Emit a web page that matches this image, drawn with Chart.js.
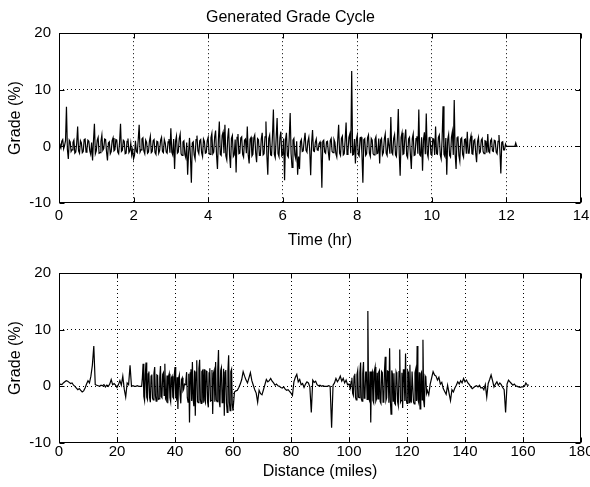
<!DOCTYPE html>
<html><head><meta charset="utf-8">
<script src="https://cdn.jsdelivr.net/npm/chart.js@4"></script>
<style>
html,body{margin:0;padding:0;background:#fff;width:590px;height:487px;overflow:hidden}
canvas{position:absolute;left:0}
#c1{top:0}
#c2{top:258px}
</style></head>
<body>
<canvas id="c1" width="590" height="258"></canvas>
<canvas id="c2" width="590" height="229"></canvas>
<script>
// ---- text ----
const chartTitle = 'Generated Grade Cycle';
const yAxisLabel = 'Grade (%)';
const timeAxisLabel = 'Time (hr)';
const distAxisLabel = 'Distance (miles)';

// ---- tick labels ----
const timeTickValues = [0, 2, 4, 6, 8, 10, 12, 14];
const distTickValues = [0, 20, 40, 60, 80, 100, 120, 140, 160, 180];
const gradeTickValues = [-10, 0, 10, 20];

// ---- top panel: grade (%) sampled every 0.025 hr from t = 0 ----
const TIME_STEP_HR = 0.025;
const gradeVsTime = [
  0.5, 0.1, -0.3, 0.9, 1.2, -0.4, 0.2, 1.0, 7.0, -0.5, -2.2, 1.1, 0.8, -0.9, -0.6, 0.7, 1.1, -1.2, -1.0, 0.6,
  3.5, -0.8, -1.2, 1.0, 0.6, -1.1, -0.9, 1.2, 1.3, -1.0, -0.5, 1.1, 0.9, -0.8, -1.4, 0.7, -2.5, 1.0, 4.0, -1.3,
  -0.8, 1.1, 1.6, -1.2, -1.1, 0.9, 2.0, -0.7, -0.4, 1.3, 1.2, -1.0, -2.5, 0.6, 0.8, -1.3, -0.9, 1.0, 1.5, -0.8,
  -0.6, 1.2, 1.1, -1.0, -1.3, 0.8, 4.0, -0.9, -0.7, 1.1, 0.9, -1.3, -1.2, 0.9, 1.4, -1.1, -0.8, 0.5, -1.5, -0.6,
  -2.2, -1.6, 1.0, -0.9, -1.1, 1.2, 3.8, -1.0, -0.6, 1.3, 1.5, -0.8, -1.3, 1.1, 0.7, -1.2, -1.0, 0.9, 1.8, -1.1,
  -0.9, 1.0, 1.2, -1.1, -1.4, 0.9, 0.8, -1.2, -0.7, 1.1, 1.6, -0.9, -1.1, 1.2, 0.6, -1.0, -1.2, 0.8, 1.3, -1.1,
  3.2, -1.0, -1.5, 1.3, -4.0, 0.9, 1.8, -1.2, -1.0, 1.4, 2.2, -1.3, -1.6, 0.8, 1.0, -1.4, -2.0, 0.7, -5.0, -1.2,
  1.5, -1.8, -6.4, 0.6, 0.8, -1.5, -2.2, 1.2, 1.9, -0.8, -1.3, 1.0, 1.2, -1.1, -1.8, 1.3, 0.9, -1.2, -1.1, 1.0,
  1.6, -1.2, -1.4, 1.5, 2.3, -1.3, -1.0, 1.7, 2.8, -1.5, -4.0, 1.2, 4.4, -1.4, -1.6, 1.9, 2.5, -1.2, 3.8, -1.7,
  -2.4, 1.5, 3.2, -1.6, -3.8, 1.4, 1.9, -1.8, -1.5, 1.2, -4.6, 1.6, 2.2, -1.3, -1.2, 1.5, 1.7, -1.4, -1.9, 1.1,
  1.3, -1.2, 3.5, -1.5, -3.0, 1.3, 1.6, -1.7, -1.4, 1.5, 2.0, -1.2, -2.8, 1.4, 1.2, -1.6, -1.6, 1.3, 2.4, -1.5,
  -1.3, 1.7, 4.4, -1.6, -5.0, 1.4, 2.0, -1.5, -1.6, 1.8, 6.5, -1.4, -2.0, 1.6, 5.0, -1.3, -1.8, 1.5, 2.6, -1.7,
  -1.5, 1.4, -6.0, 1.2, 2.4, -1.6, -1.9, 1.5, 5.9, -1.3, -3.7, 1.1, 1.4, -1.5, -2.2, 0.9, -5.0, -1.8, -4.0, 0.8,
  1.2, -0.9, -0.8, 1.0, 2.4, -0.7, -1.0, 0.9, 1.6, -0.8, -5.1, 0.6, 2.9, -0.8, -0.9, 0.7, 1.3, -0.6, -0.7, 0.5,
  0.8, -0.6, -7.3, 0.9, 1.1, -1.0, -1.2, 0.8, 0.9, -1.1, -2.5, 1.0, 1.4, -0.9, -1.1, 1.2, 0.7, -1.3, -1.9, 1.1,
  3.8, -1.2, -1.6, 1.4, 1.8, -1.5, -1.3, 1.2, 4.2, -1.4, -1.0, 1.6, 2.2, -1.2, 13.3, -1.5, -1.4, 1.3, -3.0, 1.2,
  2.0, -1.4, -1.7, 1.5, 1.6, -1.3, -6.4, 1.2, 1.4, -1.6, -1.3, 1.5, 2.0, -1.2, -1.8, 1.4, 1.1, -1.3, -1.5, 1.2,
  1.7, -1.3, -1.2, 1.4, -3.0, 1.1, 1.4, -1.5, -1.1, 1.3, 2.2, -1.2, -1.6, 1.5, 1.5, -1.3, 5.2, -1.1, -1.4, 1.4,
  2.1, -1.5, -1.8, 1.4, 6.6, -1.3, -5.2, 1.6, 2.4, -1.4, -1.3, 1.5, 3.0, -1.6, -2.0, 1.3, 1.6, -1.5, -4.0, 1.4,
  2.2, -1.6, -1.5, 1.4, 1.8, -1.3, 6.5, -1.5, -1.7, 1.6, -4.3, 1.2, 2.5, -1.4, 5.8, -1.2, -1.9, 1.5, 1.7, -1.4,
  -1.6, 1.4, 1.3, -1.5, 3.5, -1.3, -1.4, 1.6, 2.0, -1.5, -2.2, 1.3, 7.1, -1.4, -1.8, 1.5, -5.0, 1.2, 2.1, -1.6,
  -1.9, 1.6, 2.6, -1.5, 8.2, -1.4, -4.0, 1.5, 1.8, -1.6, -2.6, 1.3, 1.5, -1.4, -1.9, 1.2, 1.3, -1.3, 2.6, -1.2,
  -1.2, 1.1, 1.9, -1.3, -1.4, 1.0, 1.2, -1.1, -2.8, 0.9, 1.6, -1.2, -1.0, 1.1, 1.4, -0.9, -1.3, 1.0, 0.9, -1.1,
  2.2, -0.9, -1.1, 1.0, 1.3, -0.8, -0.9, 1.1, 1.0, -1.0, -1.3, 0.9, 2.0, -0.8, -4.8, 0.7, 0.8, -0.6, -0.6, 0.4,
  0.0, 0.0, 0.0, 0.0, 0.0, 0.0, 0.0, 0.0, 0.0, 0.0, 0.6, 0.0, 0.0
];

// ---- bottom panel: grade (%) vs distance, read in five stretches ----
// 0 - 28 mi, every 0.5 mi
const gradeDist0to28 = [
  0.2, 0.4, 0.3, 0.6, 0.8, 1.0, 0.9, 0.7, 0.5, 0.6, 0.2, 0.0, -0.3, -0.6, -0.4, -0.7, -1.0, -0.8, -0.3, 0.4,
  1.0, 0.6, 1.8, 3.7, 7.1, 0.3, 0.2, 0.1, 0.0, 0.2, 0.1, 0.3, -0.1, 0.2, 0.0, 0.4, 1.2, 0.3, 0.5, 0.2,
  -0.2, 0.3, 1.0, 0.2, 1.8, -0.5, -1.9, 0.6, 0.3, 3.7, 0.0, 0.1, 0.0, 0.0, 0.1, 0.0, 0.0
];
// 28.5 - 60 mi, every 0.25 mi
const gradeDist28to60 = [
  0.0, 1.5, 4.0, -1.8, -2.5, 2.0,
  4.2, -1.9, -2.3, 2.2, 2.6, -2.0, -2.8, 1.8, 2.1, -2.1, -2.4, 2.3, 3.4, -1.7, -2.6, 2.0, 1.9, -2.3, -2.2, 1.6,
  3.6, -1.8, -2.0, 2.1, 2.4, -1.6, 4.0, -2.2, -2.5, 1.9, -3.0, 1.7, 2.2, -2.0, -2.7, 1.5, 1.8, -1.9, -2.1, 2.0,
  3.4, -1.8, -2.2, 1.6, -4.0, 1.4, 2.0, -1.5, -3.0, 1.2, 1.5, -0.8, -0.5, 0.4, 0.3, 1.0, 2.5, -2.0, -2.8, 2.2,
  -6.4, 2.4, 3.0, -2.6, 4.3, -2.2, -3.5, 2.8, -5.2, 2.5, 4.6, -2.7, -2.9, 3.1, 4.7, -2.4, -3.0, 2.6, 2.8, -2.9,
  3.0, -2.5, -2.9, 2.7, 2.6, -2.8, -3.7, 2.4, 3.2, -2.6, -2.5, 2.9, -4.9, 2.3, 2.8, -2.7, 4.3, -2.4, -2.7, 3.0,
  6.4, -2.6, -3.7, 2.8, 3.3, -2.9, -2.6, 3.1, -5.2, 2.5, 2.9, -3.0, -4.6, 2.7, 5.5, -2.8, -4.3, 2.6, 3.0, -3.2,
  -4.3
];
// 60.5 - 100 mi, every 0.5 mi
const gradeDist60to100 = [
  -1.0, -0.8, -0.7, -0.2, 0.4, 1.2, 2.6, 1.8, 1.1, 0.6, 1.5, 2.4, 1.0, 0.2, -0.6, -1.2, -2.8, -0.7, -1.3,
  -1.5, -0.6, 0.3, 1.2, 0.8, 1.0, 1.4, 0.9, 0.6, 0.2, 0.4, 0.1, 0.0, -0.2, -0.3, -0.1, -0.5, -0.7, -0.6, -0.9,
  -1.2, -1.6, 0.8, 1.6, 2.1, 0.8, 1.2, 0.3, 0.5, -0.2, 0.4, 0.8, 0.6, -0.1, -4.6, 1.1, 0.7, 0.9, 0.3, 0.1,
  0.2, 0.0, 0.1, 0.0, 0.0, 0.0, 0.1, 0.0, -7.3, 0.2, 0.6, 1.4, 0.8, 1.2, 1.8, 0.9, 1.4, 0.6, 1.1, 0.3,
  0.4
];
// 100.25 - 127 mi, every 0.25 mi
const gradeDist100to127 = [
  -0.1, -0.3, 0.9,
  1.5, -1.2, -1.6, 1.8, 2.2, -2.0, -2.4, 2.1, 2.8, -1.9, -2.0, 2.4, 4.2, -2.2, -2.6, 2.3, 4.3, -2.1, -1.8, 2.5,
  2.5, -2.3, 13.3, -2.0, -2.4, 2.6, -6.4, 2.2, 2.6, -2.5, -2.9, 2.7, 3.4, -2.6, -2.2, 2.4, -2.2, 2.5, 2.8, -2.7,
  -3.0, 2.6, 2.4, -2.8, -2.6, 2.9, 5.2, -2.5, -2.0, 2.7, 2.6, -2.9, 6.7, -2.4, -4.9, 2.8, 2.1, -2.6, 2.3, -3.0,
  -3.2, 2.5, 2.0, -2.7, -3.4, 2.6, 6.5, -2.8, -2.5, 2.4, -3.8, 2.9, 2.9, -2.6, 5.8, -2.4, -3.0, 2.7, 2.4, -2.9,
  3.8, -2.5, -2.7, 2.6, 2.6, -2.8, -3.1, 2.4, 3.0, -2.6, 7.1, -2.3, -2.8, 2.5, -4.0, 2.2, 2.5, -2.4, 8.2, -2.6,
  -3.7, 1.8, 1.5, -1.2, -0.7
];
// 127.5 - 162 mi, every 0.5 mi
const gradeDist127to162 = [
  -1.5, 0.4, 1.5, 2.6, 2.0,
  1.8, 1.1, 1.6, 0.4, 0.7, -0.4, -0.9, -1.4, 0.2, -1.2, -2.5, -0.6, -1.0, -0.3, 0.2, 0.8, 0.4, 1.0, 0.6, 1.4,
  0.8, 1.1, 0.6, 0.3, -0.1, -0.4, -0.2, 0.0, 0.1, -0.1, 0.2, -0.3, -0.2, -0.6, 0.3, -1.9, 0.5, 1.2, 2.0, 1.0,
  -0.1, 0.4, 0.8, 0.2, 0.6, 0.3, -0.2, -0.6, -4.6, 0.4, 1.1, 0.8, 0.5, 0.2, 0.4, 0.1, 0.0, -0.1, -0.2, -0.1,
  -0.1, 0.0, 0.6, 0.2, 0.2
];
// [start mile, step mile, grades]
const distStretches = [
  [0, 0.5, gradeDist0to28],
  [28.5, 0.25, gradeDist28to60],
  [60.5, 0.5, gradeDist60to100],
  [100.25, 0.25, gradeDist100to127],
  [127.5, 0.5, gradeDist127to162]
];

// ---- build point tables from the arrays ----
const timePoints = gradeVsTime.map((g, i) => ({ x: +(i * TIME_STEP_HR).toFixed(3), y: g }));
const distPoints = [];
distStretches.forEach(([start, step, grades]) => {
  grades.forEach((g, i) => distPoints.push({ x: +(start + i * step).toFixed(2), y: g }));
});

const FAMILY = "'Liberation Sans', Arial, Helvetica, sans-serif";
const TICK_FONT = { family: FAMILY, size: 15, weight: 'normal' };
const LABEL_FONT = { family: FAMILY, size: 16, weight: 'normal' };

// MATLAB-style box with inward tick marks on all four sides
const boxTicks = {
  id: 'boxTicks',
  afterDatasetsDraw(chart) {
    const { ctx, chartArea, scales: { x, y } } = chart;
    const L = Math.round(chartArea.left) + 0.5, R = Math.round(chartArea.right) - 0.5;
    const T = Math.round(chartArea.top) + 0.5, B = Math.round(chartArea.bottom) - 0.5;
    const len = 5;
    ctx.save();
    ctx.setLineDash([]);
    ctx.strokeStyle = '#000';
    ctx.lineWidth = 1;
    ctx.strokeRect(L, T, R - L, B - T);
    ctx.beginPath();
    x.ticks.forEach(t => {
      const px = Math.round(x.getPixelForValue(t.value)) + 0.5;
      ctx.moveTo(px, B); ctx.lineTo(px, B - len);
      ctx.moveTo(px, T); ctx.lineTo(px, T + len);
    });
    y.ticks.forEach(t => {
      const py = Math.round(y.getPixelForValue(t.value)) + 0.5;
      ctx.moveTo(L, py); ctx.lineTo(L + len, py);
      ctx.moveTo(R, py); ctx.lineTo(R - len, py);
    });
    ctx.stroke();
    ctx.restore();
  }
};

function gridColor(vals) {
  const lo = vals[0], hi = vals[vals.length - 1];
  return ctx => (ctx.tick && (ctx.tick.value === lo || ctx.tick.value === hi)) ? 'rgba(0,0,0,0)' : '#000';
}

function makeChart(id, points, xTicks, xLabel, cfg) {
  return new Chart(document.getElementById(id), {
    type: 'line',
    data: { datasets: [{ data: points, borderColor: '#000', borderWidth: 1.2, pointRadius: 0, tension: 0, fill: false }] },
    options: {
      responsive: false, animation: false, devicePixelRatio: 1,
      layout: { padding: { left: 0, right: 9, top: cfg.padTop, bottom: 0 } },
      plugins: {
        legend: { display: false }, tooltip: { enabled: false },
        title: cfg.title ? { display: true, text: cfg.title, color: '#000', font: LABEL_FONT, padding: { top: 8, bottom: 6 } } : { display: false }
      },
      scales: {
        x: {
          type: 'linear', min: xTicks[0], max: xTicks[xTicks.length - 1],
          afterBuildTicks: s => { s.ticks = xTicks.map(v => ({ value: v })); },
          afterFit: s => { s.height = cfg.xAxisHeight; s.paddingLeft = 0; s.paddingRight = 0; },
          ticks: { color: '#000', font: TICK_FONT, padding: cfg.xTickPad, maxRotation: 0, autoSkip: false },
          grid: { color: gridColor(xTicks), lineWidth: 1, drawTicks: false },
          border: { display: false, dash: [1, 3] },
          title: { display: true, text: xLabel, color: '#000', font: LABEL_FONT, padding: { top: 0, bottom: cfg.xTitlePad } }
        },
        y: {
          type: 'linear', min: gradeTickValues[0], max: gradeTickValues[gradeTickValues.length - 1],
          afterBuildTicks: s => { s.ticks = gradeTickValues.map(v => ({ value: v })); },
          afterFit: s => { s.width = 59; s.paddingTop = 0; s.paddingBottom = 0; },
          ticks: { color: '#000', font: TICK_FONT, padding: 8 },
          grid: { color: gridColor(gradeTickValues), lineWidth: 1, drawTicks: false },
          border: { display: false, dash: [1, 3] },
          title: { display: true, text: yAxisLabel, color: '#000', font: LABEL_FONT, padding: { top: 6, bottom: 0 } }
        }
      }
    },
    plugins: [boxTicks]
  });
}

makeChart('c1', timePoints, timeTickValues, timeAxisLabel, { title: chartTitle, padTop: 0, xAxisHeight: 55, xTickPad: 4, xTitlePad: 8 });
makeChart('c2', distPoints, distTickValues, distAxisLabel, { title: null, padTop: 15, xAxisHeight: 44, xTickPad: 0, xTitlePad: 6 });
</script>
</body></html>
